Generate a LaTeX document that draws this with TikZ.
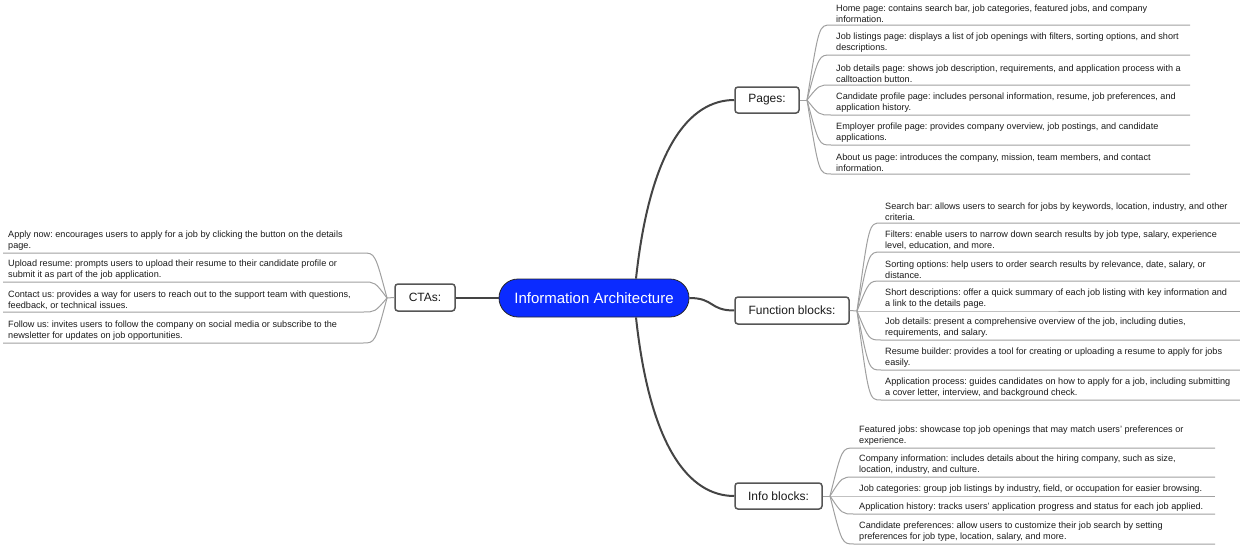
\documentclass[tikz,border=0pt]{standalone}
\usepackage{fontspec}
\setmainfont{Liberation Sans}
\usetikzlibrary{calc}
\frenchspacing
\definecolor{rootblue}{RGB}{11,43,255}
\definecolor{branchc}{RGB}{68,68,68}
\definecolor{boxc}{RGB}{85,85,85}
\definecolor{leafc}{RGB}{160,160,160}
\definecolor{txt}{RGB}{26,26,26}
\tikzset{
  rootbox/.style={draw=black!85, fill=rootblue, text=white, rounded corners=19pt, line width=0.8pt,
    minimum width=190pt, minimum height=38pt, inner sep=0pt, font=\fontsize{15}{18}\selectfont},
  catbox/.style={draw=boxc, fill=white, text=txt, rounded corners=3pt, line width=1.5pt,
    minimum height=26pt, inner sep=0pt, font=\fontsize{12}{14}\selectfont},
  branch/.style={draw=branchc, line width=2pt},
  leafline/.style={draw=leafc, line width=1pt},
  leaf/.style={text=txt, align=left, inner sep=0pt, font=\fontsize{9.13}{11}\selectfont}
}
% #1 name, #2 origin, #3 dir, #4 underline y, #5 end x, #6 text x, #7 text
\newcommand\mmleaf[7]{%
  \coordinate (#1e) at (#5,#4);
  \draw[leafline] (#2) .. controls ($(#2|-#1e)+(#3*12,0)$) .. ($(#2|-#1e)+(#3*24,0)$) -- (#1e);
  \node[leaf, anchor=south west] (#1) at (#6,#4-2.5) {#7};
}
\begin{document}
\begin{tikzpicture}[x=1pt, y=-1pt]
\useasboundingbox (0,0) rectangle (1240,544);

\node[rootbox] (root) at (594,298) {Information Architecture};
\node[catbox, minimum width=64pt] (pages) at (767,100) {Pages:};
\node[catbox, minimum width=114pt, minimum height=27pt] (func) at (792,310.5) {Function blocks:};
\node[catbox, minimum width=87pt] (info) at (778.5,496) {Info blocks:};
\node[catbox, minimum width=60pt, minimum height=27pt] (ctas) at (425,297.5) {CTAs:};

\draw[branch] ($(root.north)+(42,0)$) .. controls +(14,-130) and +(-45,0) .. (pages.west);
\draw[branch] ($(root.south)+(42,0)$) .. controls +(14,130) and +(-45,0) .. (info.west);
\draw[branch] (root.east) .. controls +(25,0) and +(-25,0) .. (func.west);
\draw[branch] (root.west) -- (ctas.east |- root.west);

\coordinate (pO) at (807,100);
\coordinate (fO) at (857,311);
\coordinate (iO) at (830,496);
\coordinate (cO) at (387,298);
\draw[leafline] (pages.east) -- (pO);
\draw[leafline] (func.east) -- (fO);
\draw[leafline] (info.east) -- (iO);
\draw[leafline] (ctas.west) -- (cO);

\mmleaf{p1}{pO}{1}{25}{1190}{836}{Home page: contains search bar, job categories, featured jobs, and company\\information.}
\mmleaf{p2}{pO}{1}{55}{1190}{836}{Job listings page: displays a list of job openings with filters, sorting options, and short\\descriptions.}
\mmleaf{p3}{pO}{1}{85}{1190}{836}{Job details page: shows job description, requirements, and application process with a\\calltoaction button.}
\mmleaf{p4}{pO}{1}{115}{1190}{836}{Candidate profile page: includes personal information, resume, job preferences, and\\application history.}
\mmleaf{p5}{pO}{1}{145}{1190}{836}{Employer profile page: provides company overview, job postings, and candidate\\applications.}
\mmleaf{p6}{pO}{1}{174}{1190}{836}{About us page: introduces the company, mission, team members, and contact\\information.}

\mmleaf{f1}{fO}{1}{223}{1240}{885}{Search bar: allows users to search for jobs by keywords, location, industry, and other\\criteria.}
\mmleaf{f2}{fO}{1}{252}{1240}{885}{Filters: enable users to narrow down search results by job type, salary, experience\\level, education, and more.}
\mmleaf{f3}{fO}{1}{281}{1240}{885}{Sorting options: help users to order search results by relevance, date, salary, or\\distance.}
\mmleaf{f4}{fO}{1}{311}{1240}{885}{Short descriptions: offer a quick summary of each job listing with key information and\\a link to the details page.}
\mmleaf{f5}{fO}{1}{340}{1240}{885}{Job details: present a comprehensive overview of the job, including duties,\\requirements, and salary.}
\mmleaf{f6}{fO}{1}{370}{1240}{885}{Resume builder: provides a tool for creating or uploading a resume to apply for jobs\\easily.}
\mmleaf{f7}{fO}{1}{400}{1240}{885}{Application process: guides candidates on how to apply for a job, including submitting\\a cover letter, interview, and background check.}

\mmleaf{i1}{iO}{1}{448}{1215}{859}{Featured jobs: showcase top job openings that may match users' preferences or\\experience.}
\mmleaf{i2}{iO}{1}{477}{1215}{859}{Company information: includes details about the hiring company, such as size,\\location, industry, and culture.}
\mmleaf{i3}{iO}{1}{496}{1215}{859}{Job categories: group job listings by industry, field, or occupation for easier browsing.}
\mmleaf{i4}{iO}{1}{514}{1215}{859}{Application history: tracks users' application progress and status for each job applied.}
\mmleaf{i5}{iO}{1}{544}{1215}{859}{Candidate preferences: allow users to customize their job search by setting\\preferences for job type, location, salary, and more.}

\mmleaf{c1}{cO}{-1}{253}{3}{8}{Apply now: encourages users to apply for a job by clicking the button on the details\\page.}
\mmleaf{c2}{cO}{-1}{282}{3}{8}{Upload resume: prompts users to upload their resume to their candidate profile or\\submit it as part of the job application.}
\mmleaf{c3}{cO}{-1}{312}{3}{8}{Contact us: provides a way for users to reach out to the support team with questions,\\feedback, or technical issues.}
\mmleaf{c4}{cO}{-1}{343}{3}{8}{Follow us: invites users to follow the company on social media or subscribe to the\\newsletter for updates on job opportunities.}
\end{tikzpicture}
\end{document}
